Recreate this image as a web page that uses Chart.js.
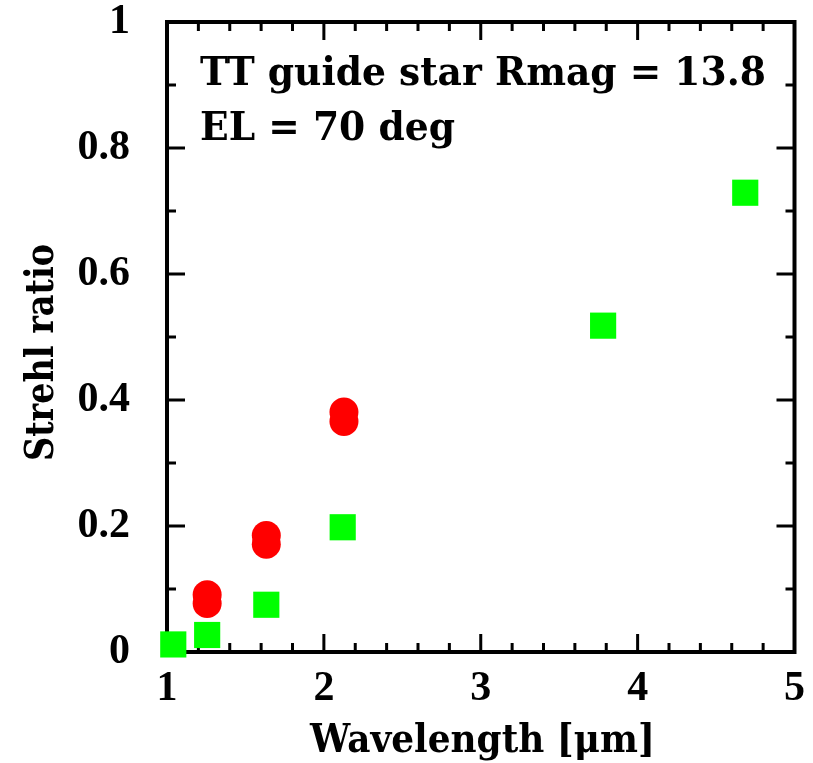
<!DOCTYPE html>
<html>
<head>
<meta charset="utf-8">
<script src="https://cdn.jsdelivr.net/npm/chart.js@4.4.1/dist/chart.umd.min.js"></script>
<style>
  html, body { margin: 0; padding: 0; background: #fff; }
  canvas { display: block; }
</style>
</head>
<body>
<canvas id="strehl-chart" width="813" height="763"></canvas>
<script>
// Strehl ratio vs wavelength.
const greenWavelength = [1.04, 1.256, 1.633, 2.12, 3.78, 4.686];
const greenStrehl = [0.012, 0.027, 0.075, 0.198, 0.518, 0.729];
const redWavelength = [1.256, 1.256, 1.633, 1.633, 2.128, 2.128];
const redStrehl = [0.091, 0.077, 0.185, 0.171, 0.381, 0.366];

const xMajorTicks = [1, 2, 3, 4, 5];
const xMinorTicks = [1.2, 1.4, 1.6, 1.8, 2.2, 2.4, 2.6, 2.8, 3.2, 3.4, 3.6, 3.8, 4.2, 4.4, 4.6, 4.8];
const yMajorTicks = [0, 0.2, 0.4, 0.6, 0.8, 1];
const yMinorTicks = [0.1, 0.3, 0.5, 0.7, 0.9];

const annotationLines = ['TT guide star Rmag = 13.8', 'EL = 70 deg'];
const xTitle = 'Wavelength [\u03bcm]';
const yTitle = 'Strehl ratio';

const TICK_FONT = '"Liberation Serif", "DejaVu Serif", serif';
const TEXT_FONT = '"DejaVu Serif", "Liberation Serif", serif';

function toPoints(xs, ys) {
    return xs.map((x, i) => ({ x, y: ys[i] }));
}

// draw text fitted to a target width: widen with letter spacing, or squeeze
function fittedText(ctx, text, x, y, width, size) {
    ctx.font = `bold ${size}px ${TEXT_FONT}`;
    ctx.letterSpacing = '0px';
    const w = ctx.measureText(text).width;
    if (w > width) {
        ctx.save();
        ctx.translate(x, y);
        ctx.scale(width / w, 1);
        ctx.fillText(text, 0, 0);
        ctx.restore();
        return;
    }
    const gap = (width - w) / Math.max(text.length - 1, 1);
    ctx.letterSpacing = gap + 'px';
    ctx.fillText(text, x, y);
    ctx.letterSpacing = '0px';
}

const framePlugin = {
    id: 'frame',
    beforeDatasetsDraw(chart) {
        const { ctx, chartArea: a, scales } = chart;
        ctx.save();
        ctx.strokeStyle = '#000';
        ctx.lineCap = 'butt';
        ctx.lineWidth = 3;
        const tick = (arr, len, horiz) => {
            arr.forEach((v) => {
                if (horiz) {
                    const px = scales.x.getPixelForValue(v);
                    ctx.beginPath();
                    ctx.moveTo(px, a.bottom); ctx.lineTo(px, a.bottom - len);
                    ctx.moveTo(px, a.top); ctx.lineTo(px, a.top + len);
                    ctx.stroke();
                } else {
                    const py = scales.y.getPixelForValue(v);
                    ctx.beginPath();
                    ctx.moveTo(a.left, py); ctx.lineTo(a.left + len, py);
                    ctx.moveTo(a.right, py); ctx.lineTo(a.right - len, py);
                    ctx.stroke();
                }
            });
        };
        tick(xMajorTicks, 18, true);
        tick(xMinorTicks, 9, true);
        tick(yMajorTicks, 18, false);
        tick(yMinorTicks, 9, false);
        ctx.lineWidth = 4;
        ctx.strokeRect(a.left, a.top, a.right - a.left, a.bottom - a.top);
        ctx.restore();
    },
    afterDraw(chart) {
        const { ctx } = chart;
        ctx.save();
        ctx.fillStyle = '#000';
        ctx.textAlign = 'left';
        ctx.textBaseline = 'alphabetic';
        fittedText(ctx, annotationLines[0], 200, 85, 566, 39);
        fittedText(ctx, annotationLines[1], 200, 140, 255, 39);
        fittedText(ctx, xTitle, 310, 752, 345, 39);
        ctx.translate(53, 461);
        ctx.rotate(-Math.PI / 2);
        fittedText(ctx, yTitle, 0, 0, 217, 40);
        ctx.restore();
    },
};

new Chart(document.getElementById('strehl-chart'), {
    type: 'scatter',
    data: {
        datasets: [
            {
                label: 'green',
                data: toPoints(greenWavelength, greenStrehl),
                pointStyle: 'rect',
                pointRadius: 18.5,
                borderWidth: 0,
                backgroundColor: '#00ff00',
                borderColor: '#00ff00',
                clip: false,
            },
            {
                label: 'red',
                data: toPoints(redWavelength, redStrehl),
                pointStyle: 'circle',
                pointRadius: 14.5,
                borderWidth: 0,
                backgroundColor: '#ff0000',
                borderColor: '#ff0000',
                clip: false,
            },
        ],
    },
    plugins: [framePlugin],
    options: {
        responsive: false,
        animation: false,
        layout: { padding: { top: 22, right: 16, left: 0, bottom: 0 } },
        plugins: { legend: { display: false }, tooltip: { enabled: false } },
        scales: {
            x: {
                type: 'linear',
                min: 1,
                max: 5,
                grid: { display: false },
                border: { display: false },
                afterBuildTicks: (s) => { s.ticks = xMajorTicks.map((v) => ({ value: v })); },
                afterFit: (s) => { s.height = 111; s.paddingLeft = 0; s.paddingRight = 0; },
                ticks: {
                    color: '#000',
                    padding: 4,
                    maxRotation: 0,
                    font: { family: TICK_FONT, size: 42, weight: 'bold' },
                    callback: (v) => String(v),
                },
            },
            y: {
                type: 'linear',
                min: 0,
                max: 1,
                grid: { display: false },
                border: { display: false },
                afterBuildTicks: (s) => { s.ticks = yMajorTicks.map((v) => ({ value: v })); },
                afterFit: (s) => { s.width = 167; s.paddingTop = 0; s.paddingBottom = 0; },
                ticks: {
                    color: '#000',
                    padding: 29,
                    font: { family: TICK_FONT, size: 42, weight: 'bold' },
                    callback: (v) => (v === 0 || v === 1 ? String(v) : v.toFixed(1)),
                },
            },
        },
    },
});
</script>
</body>
</html>
